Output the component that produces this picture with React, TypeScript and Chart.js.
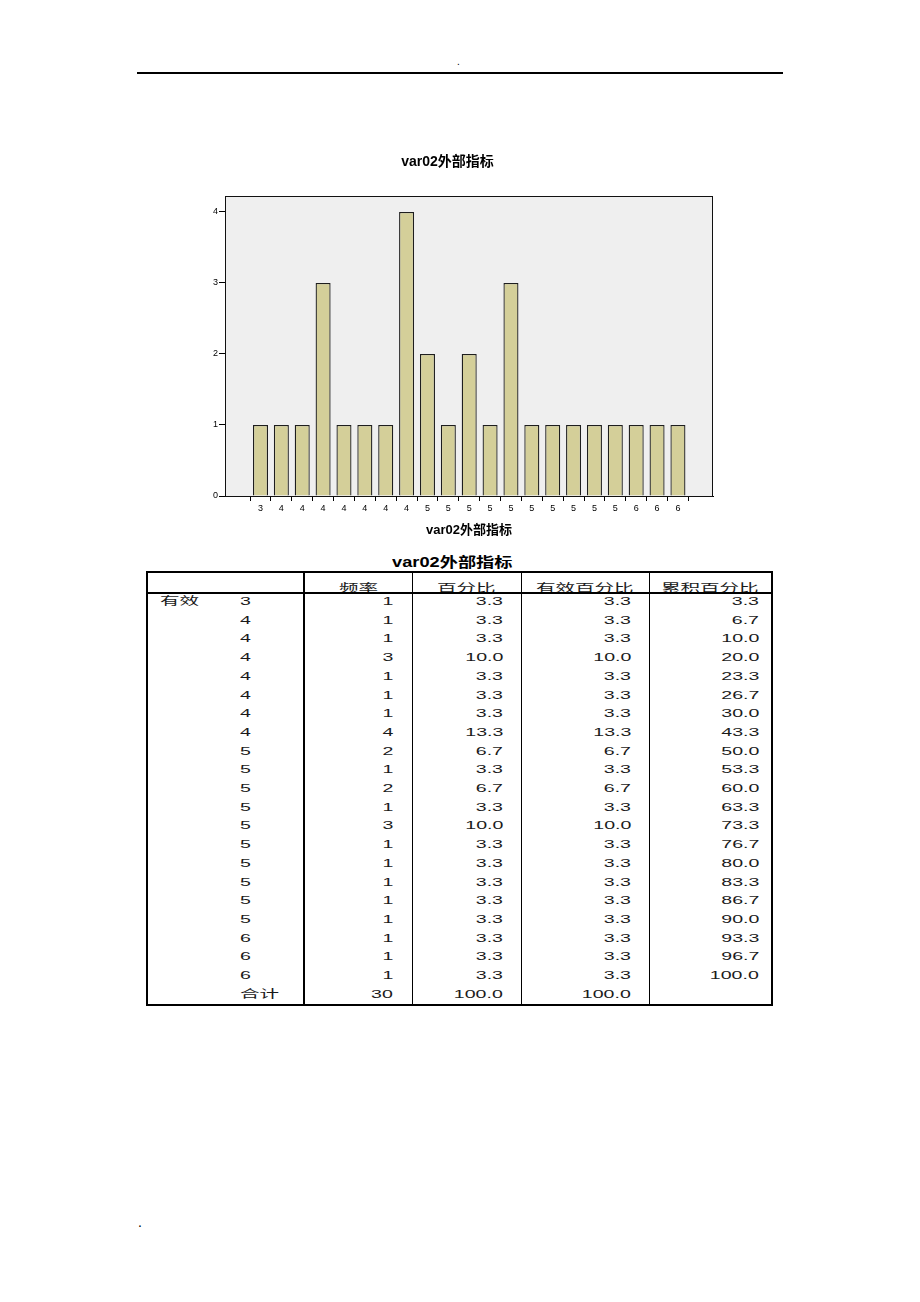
import React, { useEffect, useRef } from "react";
import { Chart, registerables } from "chart.js";

Chart.register(...registerables);

const FONT = "'Liberation Sans', Arial, 'Noto Sans CJK SC', sans-serif";

const chartTitle = "var02外部指标";
const xLabels = ["3", "4", "4", "4", "4", "4", "4", "4", "5", "5", "5", "5", "5", "5", "5", "5", "5", "5", "6", "6", "6"];
const freq = [1, 1, 1, 3, 1, 1, 1, 4, 2, 1, 2, 1, 3, 1, 1, 1, 1, 1, 1, 1, 1];
const yTicks = [0, 1, 2, 3, 4];

const tableTitle = "var02外部指标";
const headers = ["频率", "百分比", "有效百分比", "累积百分比"];
const groupLabel = "有效";
const totalLabel = "合计";
const percent = ["3.3", "3.3", "3.3", "10.0", "3.3", "3.3", "3.3", "13.3", "6.7", "3.3", "6.7", "3.3", "10.0", "3.3", "3.3", "3.3", "3.3", "3.3", "3.3", "3.3", "3.3"];
const validPercent = ["3.3", "3.3", "3.3", "10.0", "3.3", "3.3", "3.3", "13.3", "6.7", "3.3", "6.7", "3.3", "10.0", "3.3", "3.3", "3.3", "3.3", "3.3", "3.3", "3.3", "3.3"];
const cumPercent = ["3.3", "6.7", "10.0", "20.0", "23.3", "26.7", "30.0", "43.3", "50.0", "53.3", "60.0", "63.3", "73.3", "76.7", "80.0", "83.3", "86.7", "90.0", "93.3", "96.7", "100.0"];
const totalRow = ["30", "100.0", "100.0", ""];

const plotFrame = {
  id: "plotFrame",
  beforeDraw(chart: any) {
    const { ctx, chartArea: a } = chart;
    ctx.save();
    ctx.fillStyle = "#efefef";
    ctx.fillRect(a.left, a.top, a.right - a.left, a.bottom - a.top);
    ctx.restore();
  },
  afterDraw(chart: any) {
    const { ctx, chartArea: a } = chart;
    ctx.save();
    ctx.strokeStyle = "#111";
    ctx.lineWidth = 1;
    ctx.strokeRect(Math.round(a.left) + 0.5, Math.round(a.top) + 0.5, Math.round(a.right - a.left) - 1, Math.round(a.bottom - a.top));
    ctx.restore();
  },
};

function BarChart() {
  const ref = useRef<HTMLCanvasElement | null>(null);
  useEffect(() => {
    if (!ref.current) return;
    const chart = new Chart(ref.current, {
      type: "bar",
      data: {
        datasets: [
          {
            data: freq.map((v, i) => ({ x: i, y: v })),
            backgroundColor: "#d4cf99",
            borderColor: "#1e1e1e",
            borderWidth: 1.3,
          },
        ],
      },
      options: {
        animation: false,
        responsive: false,
        devicePixelRatio: 1,
        layout: { padding: { left: 42, right: 67, top: 0, bottom: 0 } },
        plugins: {
          legend: { display: false },
          tooltip: { enabled: false },
          title: {
            display: true,
            text: chartTitle,
            color: "#000",
            font: { family: FONT, size: 14, weight: "bold" },
            padding: { top: 14, bottom: 25.2 },
          },
        },
        scales: {
          x: {
            type: "linear",
            min: -1.7,
            max: 21.68,
            offset: false,
            afterBuildTicks: (s: any) => {
              s.ticks = xLabels.map((_, i) => ({ value: i }));
            },
            afterFit: (s: any) => {
              s.height = 54;
            },
            ticks: {
              autoSkip: false,
              maxRotation: 0,
              padding: 2,
              color: "#000",
              font: { family: FONT, size: 9 },
              callback: (v: any) => xLabels[v] ?? "",
            },
            grid: { drawOnChartArea: false, drawTicks: true, tickLength: 5, color: "#000" },
            border: { display: true, color: "#000" },
            title: {
              display: true,
              text: chartTitle,
              color: "#000",
              font: { family: FONT, size: 13, weight: "bold" },
              padding: { top: 4, bottom: 12.2 },
            },
          },
          y: {
            min: 0,
            max: 4.225,
            afterBuildTicks: (s: any) => {
              s.ticks = yTicks.map((v) => ({ value: v }));
            },
            afterFit: (s: any) => {
              s.width = 43;
            },
            ticks: { padding: 1, color: "#000", font: { family: FONT, size: 9 } },
            grid: { drawOnChartArea: false, drawTicks: true, tickLength: 6, color: "#000" },
            border: { display: true, color: "#000" },
          },
        },
      } as any,
      plugins: [plotFrame],
    });
    return () => chart.destroy();
  }, []);
  return (
    <canvas
      ref={ref}
      width={640}
      height={410}
      style={{ position: "absolute", left: 140, top: 140, width: 640, height: 410 }}
    />
  );
}

const SX = 1.7;
const cellFont: React.CSSProperties = {
  fontFamily: FONT,
  fontSize: 11.5,
  color: "#1a1a1a",
  whiteSpace: "nowrap",
};

function Txt({ children, origin }: { children: React.ReactNode; origin: string }) {
  return (
    <span style={{ display: "inline-block", transform: `scaleX(${SX})`, transformOrigin: origin }}>{children}</span>
  );
}

const cols = [
  [304, 412, 19],
  [412, 521, 18],
  [521, 649, 18],
  [649, 771, 12],
];
const ROW_TOP = 592;
const ROW_H = 18.7;

function FreqTable() {
  const rows = xLabels.map((lab, i) => ({
    first: i === 0 ? groupLabel : "",
    lab,
    vals: [String(freq[i]), percent[i], validPercent[i], cumPercent[i]],
  }));
  rows.push({ first: "", lab: totalLabel, vals: totalRow });

  const vline = (x: number, w: number) => (
    <div key={"v" + x} style={{ position: "absolute", left: x - w / 2, top: 572, width: w, height: 434, background: "#000", zIndex: 2 }} />
  );

  return (
    <>
      <div
        style={{
          position: "absolute",
          left: 300,
          width: 304,
          top: 553,
          textAlign: "center",
          fontFamily: FONT,
          fontWeight: "bold",
          fontSize: 14,
          lineHeight: "18px",
          color: "#000",
        }}
      >
        <span style={{ display: "inline-block", transform: "scaleX(1.3)", transformOrigin: "center" }}>{tableTitle}</span>
      </div>
      <div
        style={{
          position: "absolute",
          left: 146,
          top: 571,
          width: 627,
          height: 435,
          border: "2px solid #000",
          boxSizing: "border-box",
          zIndex: 2,
        }}
      />
      <div style={{ position: "absolute", left: 147, top: 592, width: 625, height: 1.5, background: "#000", zIndex: 2 }} />
      {vline(304, 2)}
      {vline(412, 1)}
      {vline(521, 1)}
      {vline(649, 1)}
      {headers.map((h, c) => (
        <div
          key={"h" + c}
          style={{
            ...cellFont,
            position: "absolute",
            left: cols[c][0],
            width: cols[c][1] - cols[c][0],
            top: 580,
            height: 16,
            lineHeight: "16px",
            textAlign: "center",
          }}
        >
          <Txt origin="center">{h}</Txt>
        </div>
      ))}
      {rows.map((r, i) => {
        const top = ROW_TOP + i * ROW_H;
        return (
          <React.Fragment key={"r" + i}>
            {r.first && (
              <div style={{ ...cellFont, position: "absolute", left: 160, top, height: ROW_H, lineHeight: ROW_H + "px" }}>
                <Txt origin="left center">{r.first}</Txt>
              </div>
            )}
            <div style={{ ...cellFont, position: "absolute", left: 240, top, height: ROW_H, lineHeight: ROW_H + "px" }}>
              <Txt origin="left center">{r.lab}</Txt>
            </div>
            {r.vals.map((v, c) => (
              <div
                key={c}
                style={{
                  ...cellFont,
                  position: "absolute",
                  left: cols[c][0],
                  width: cols[c][1] - cols[c][0] - cols[c][2],
                  top,
                  height: ROW_H,
                  lineHeight: ROW_H + "px",
                  textAlign: "right",
                }}
              >
                <Txt origin="right center">{v}</Txt>
              </div>
            ))}
          </React.Fragment>
        );
      })}
    </>
  );
}

export default function App() {
  return (
    <div style={{ position: "absolute", left: 0, top: 0, width: 920, height: 1302, background: "#fff", overflow: "hidden" }}>
      <div style={{ position: "absolute", left: 457, top: 56, fontFamily: FONT, fontSize: 10, color: "#000" }}>.</div>
      <div style={{ position: "absolute", left: 137, top: 72, width: 646, height: 2, background: "#000" }} />
      <BarChart />
      <FreqTable />
      <div style={{ position: "absolute", left: 138, top: 1214, fontFamily: FONT, fontSize: 14, color: "#000" }}>.</div>
    </div>
  );
}
